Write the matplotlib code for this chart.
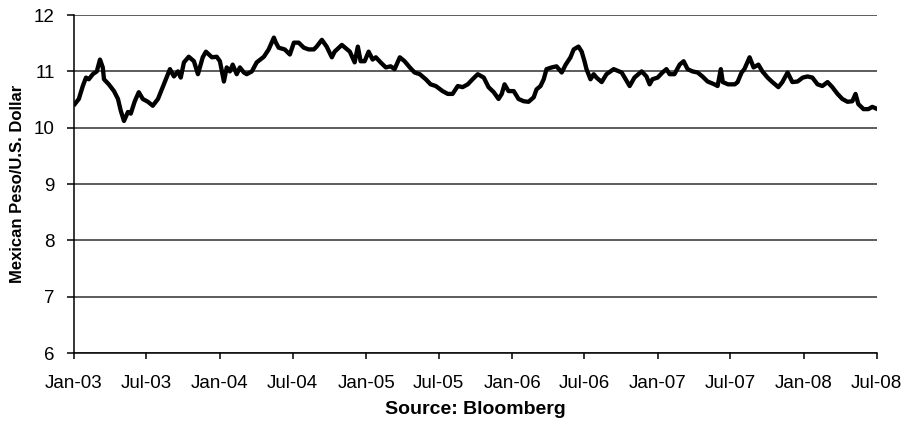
import matplotlib
matplotlib.use("Agg")
import matplotlib.pyplot as plt
import matplotlib.dates as mdates
import pandas as pd

plt.rcParams['font.family'] = ['Liberation Sans', 'DejaVu Sans']

# MXN per USD
dates = [
    "2003-01-03", "2003-01-13", "2003-01-23", "2003-01-31", "2003-02-07", "2003-02-17",
    "2003-02-27", "2003-03-07", "2003-03-14", "2003-03-17", "2003-03-29", "2003-04-11",
    "2003-04-21", "2003-04-28", "2003-05-06", "2003-05-16", "2003-05-23", "2003-06-02",
    "2003-06-12", "2003-06-22", "2003-07-05", "2003-07-17", "2003-07-30", "2003-08-11",
    "2003-08-24", "2003-08-29", "2003-09-08", "2003-09-18", "2003-09-25", "2003-10-03",
    "2003-10-15", "2003-10-28", "2003-11-07", "2003-11-19", "2003-11-27", "2003-12-12",
    "2003-12-24", "2004-01-01", "2004-01-11", "2004-01-18", "2004-01-26", "2004-02-02",
    "2004-02-12", "2004-02-20", "2004-03-01", "2004-03-08", "2004-03-21", "2004-04-02",
    "2004-04-20", "2004-05-02", "2004-05-15", "2004-05-20", "2004-05-27", "2004-06-11",
    "2004-06-24", "2004-07-04", "2004-07-16", "2004-07-29", "2004-08-10", "2004-08-23",
    "2004-08-30", "2004-09-12", "2004-09-24", "2004-10-07", "2004-10-14", "2004-11-01",
    "2004-11-21", "2004-12-03", "2004-12-11", "2004-12-18", "2004-12-28", "2005-01-07",
    "2005-01-17", "2005-01-25", "2005-02-06", "2005-02-19", "2005-03-03", "2005-03-13",
    "2005-03-26", "2005-04-07", "2005-04-20", "2005-05-02", "2005-05-15", "2005-05-30",
    "2005-06-11", "2005-06-24", "2005-07-11", "2005-07-24", "2005-08-05", "2005-08-18",
    "2005-08-30", "2005-09-12", "2005-09-24", "2005-10-07", "2005-10-22", "2005-11-03",
    "2005-11-16", "2005-11-28", "2005-12-06", "2005-12-13", "2005-12-23", "2006-01-05",
    "2006-01-17", "2006-01-30", "2006-02-11", "2006-02-24", "2006-03-03", "2006-03-13",
    "2006-03-21", "2006-03-28", "2006-04-10", "2006-04-22", "2006-05-05", "2006-05-15",
    "2006-05-27", "2006-06-04", "2006-06-16", "2006-06-24", "2006-07-01", "2006-07-06",
    "2006-07-16", "2006-07-24", "2006-07-31", "2006-08-13", "2006-08-25", "2006-09-12",
    "2006-10-02", "2006-10-22", "2006-11-03", "2006-11-21", "2006-12-03", "2006-12-11",
    "2006-12-18", "2006-12-31", "2007-01-12", "2007-01-22", "2007-01-30", "2007-02-11",
    "2007-02-24", "2007-03-06", "2007-03-16", "2007-03-28", "2007-04-10", "2007-04-22",
    "2007-05-05", "2007-05-22", "2007-05-30", "2007-06-07", "2007-06-12", "2007-06-25",
    "2007-07-12", "2007-07-19", "2007-07-29", "2007-08-05", "2007-08-18", "2007-08-28",
    "2007-09-09", "2007-09-19", "2007-10-02", "2007-10-14", "2007-10-29", "2007-11-08",
    "2007-11-21", "2007-12-03", "2007-12-16", "2007-12-29", "2008-01-10", "2008-01-22",
    "2008-02-04", "2008-02-16", "2008-02-29", "2008-03-12", "2008-03-25", "2008-04-06",
    "2008-04-19", "2008-05-01", "2008-05-09", "2008-05-16", "2008-05-29", "2008-06-10",
    "2008-06-20", "2008-07-03",
]
peso = [
    10.42, 10.51, 10.74, 10.89, 10.86, 10.95,
    11.00, 11.21, 11.07, 10.86, 10.77, 10.65,
    10.51, 10.30, 10.12, 10.28, 10.25, 10.47,
    10.63, 10.51, 10.46, 10.39, 10.51, 10.72,
    10.95, 11.04, 10.91, 11.00, 10.89, 11.16,
    11.26, 11.18, 10.95, 11.25, 11.35, 11.25,
    11.26, 11.18, 10.82, 11.07, 11.00, 11.12,
    10.95, 11.07, 10.98, 10.95, 11.00, 11.16,
    11.26, 11.39, 11.60, 11.51, 11.42, 11.39,
    11.30, 11.51, 11.51, 11.42, 11.39, 11.39,
    11.44, 11.56, 11.44, 11.25, 11.35, 11.47,
    11.35, 11.16, 11.44, 11.18, 11.18, 11.35,
    11.21, 11.25, 11.16, 11.07, 11.09, 11.04,
    11.25, 11.18, 11.07, 10.98, 10.95, 10.86,
    10.77, 10.74, 10.65, 10.60, 10.60, 10.74,
    10.72, 10.77, 10.86, 10.95, 10.89, 10.72,
    10.63, 10.51, 10.60, 10.77, 10.65, 10.65,
    10.51, 10.47, 10.46, 10.54, 10.68, 10.74,
    10.86, 11.04, 11.07, 11.09, 10.98, 11.12,
    11.25, 11.39, 11.44, 11.35, 11.18, 11.04,
    10.86, 10.95, 10.89, 10.81, 10.95, 11.04,
    10.98, 10.74, 10.89, 11.00, 10.91, 10.77,
    10.86, 10.89, 10.98, 11.04, 10.95, 10.95,
    11.12, 11.18, 11.04, 11.00, 10.98, 10.91,
    10.82, 10.77, 10.74, 11.04, 10.81, 10.77,
    10.77, 10.81, 10.98, 11.04, 11.25, 11.07,
    11.12, 11.00, 10.89, 10.81, 10.72, 10.81,
    10.98, 10.81, 10.82, 10.89, 10.91, 10.89,
    10.77, 10.74, 10.81, 10.72, 10.60, 10.51,
    10.46, 10.47, 10.60, 10.42, 10.33, 10.33,
    10.37, 10.33,
]
tick_dates = pd.date_range("2003-01-01", "2008-07-01", freq="6MS")

fig = plt.figure(figsize=(9.07, 4.30), dpi=100)
ax = fig.add_axes([0.0816, 0.179, 0.885, 0.786])

ax.plot(pd.to_datetime(dates), peso, color="black", linewidth=3.1,
        solid_joinstyle="round", zorder=3)

ax.set_ylim(6, 12)
ax.set_yticks(range(6, 13))
ax.set_xlim(tick_dates[0], tick_dates[-1])
ax.set_xticks(tick_dates)
ax.xaxis.set_major_formatter(mdates.DateFormatter("%b-%y"))

ax.grid(axis="y", color="#303030", linewidth=1.1)
ax.set_axisbelow(True)
for side in ("top", "right"):
    ax.spines[side].set_visible(False)
for side in ("left", "bottom"):
    ax.spines[side].set_linewidth(1.1)

ax.tick_params(axis="x", direction="out", length=4, width=1.1, pad=12, labelsize=13.5)
ax.tick_params(axis="y", direction="out", length=5, width=1.1, pad=9, labelsize=13.5)

ax.set_ylabel("Mexican Peso/U.S. Dollar", fontsize=12, fontweight="bold", labelpad=6)
ax.set_xlabel("Source: Bloomberg", fontsize=14, fontweight="bold", labelpad=6)

fig.savefig("out.png", dpi=100)
